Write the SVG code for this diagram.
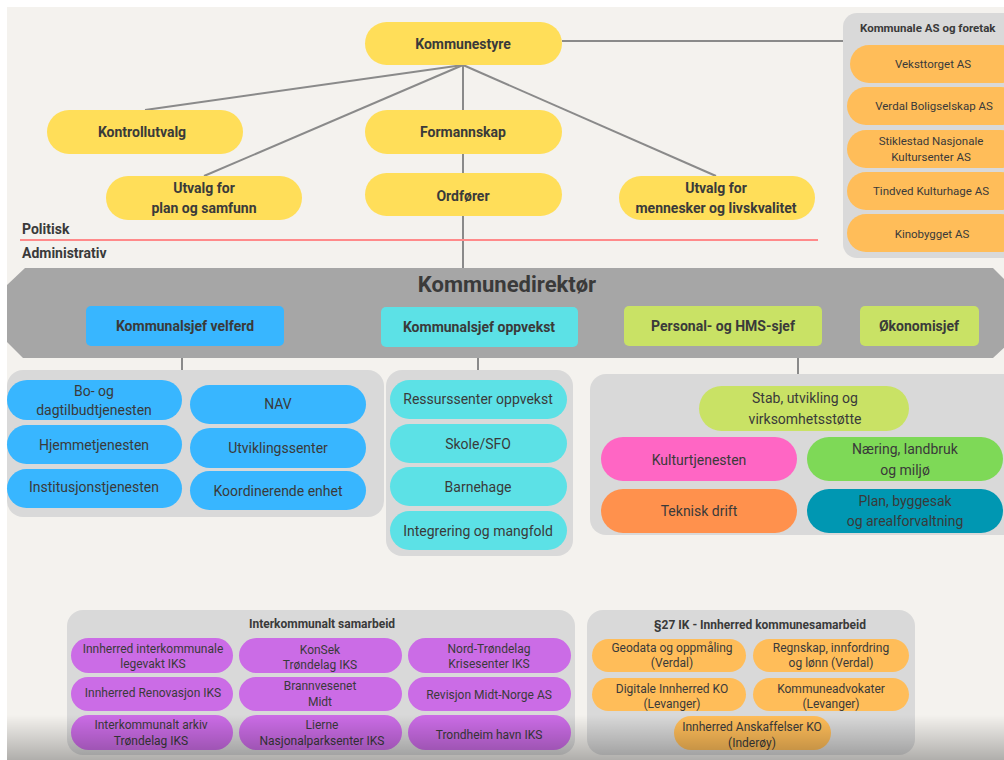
<svg xmlns="http://www.w3.org/2000/svg" width="1004" height="760" viewBox="0 0 1004 760">
<defs>
<style>
text{font-family:Roboto,"Liberation Sans",sans-serif;fill:#3a3a3a;text-anchor:middle;dominant-baseline:central}
.b{font-weight:bold}
.y{fill:#ffde59}
.or{fill:#ffbd59}
.bl{fill:#38b6ff}
.cy{fill:#5ce1e6}
.li{fill:#c9e265}
.pu{fill:#cb6ce6}
.grp{fill:#d9d9d9}
.c{stroke:#8a8a8a;stroke-width:2;fill:none}
.t14{font-size:14px}
.t15{font-size:15px}
.t12{font-size:12px}
.t115{font-size:11.5px}
</style>
<linearGradient id="shade" x1="0" y1="0" x2="0" y2="1">
<stop offset="0" stop-color="#000" stop-opacity="0"/>
<stop offset="1" stop-color="#000" stop-opacity="0.28"/>
</linearGradient>
</defs>
<rect x="0" y="0" width="1004" height="760" fill="#ffffff"/>
<rect x="7" y="7" width="997" height="753" fill="#f4f2ee"/>

<g id="connectors">
<line class="c" x1="562" y1="41" x2="845" y2="41"/>
<line class="c" x1="463" y1="65" x2="145" y2="110"/>
<line class="c" x1="463" y1="65" x2="204" y2="176"/>
<line class="c" x1="463" y1="65" x2="716" y2="176"/>
<line class="c" x1="463" y1="65" x2="463" y2="268"/>
<line class="c" x1="182" y1="346" x2="182" y2="372"/>
<line class="c" x1="478" y1="347" x2="478" y2="372"/>
<line class="c" x1="798" y1="346" x2="798" y2="376"/>
</g>

<g id="divider">
<text class="b t14" x="22" y="229" style="text-anchor:start">Politisk</text>
<line x1="20" y1="240" x2="818" y2="240" stroke="#ff8a8a" stroke-width="2"/>
<text class="b t14" x="22" y="253" style="text-anchor:start">Administrativ</text>
</g>

<g id="kommunestyre"><rect class="y" x="365" y="22" width="197" height="43" rx="21.5"/><text class="b t14" x="463" y="44">Kommunestyre</text></g>
<g id="kontrollutvalg"><rect class="y" x="47" y="110" width="196" height="44" rx="22"/><text class="b t14" x="142" y="132">Kontrollutvalg</text></g>
<g id="formannskap"><rect class="y" x="365" y="110" width="197" height="44" rx="22"/><text class="b t14" x="463" y="132">Formannskap</text></g>
<g id="utvalg-plan"><rect class="y" x="106" y="176" width="196" height="44" rx="22"/><text class="b t14" x="204" y="188">Utvalg for</text><text class="b t14" x="204" y="208">plan og samfunn</text></g>
<g id="ordforer"><rect class="y" x="365" y="173" width="197" height="43" rx="21.5"/><text class="b t14" x="463" y="196">Ordfører</text></g>
<g id="utvalg-mennesker"><rect class="y" x="619" y="176" width="196" height="44" rx="22"/><text class="b t14" x="716" y="188">Utvalg for</text><text class="b t14" x="716" y="208">mennesker og livskvalitet</text></g>

<g id="kommunale-as">
<rect class="grp" x="843" y="13" width="175" height="245" rx="14"/>
<text class="b" x="860" y="28" style="text-anchor:start;font-size:11.5px">Kommunale AS og foretak</text>
<rect class="or" x="850" y="45" width="170" height="38" rx="19"/><text class="t115" x="933" y="64">Veksttorget AS</text>
<rect class="or" x="847" y="87" width="173" height="38" rx="19"/><text class="t115" x="934" y="106">Verdal Boligselskap AS</text>
<rect class="or" x="847" y="130" width="173" height="38" rx="19"/><text class="t115" x="931" y="141">Stiklestad Nasjonale</text><text class="t115" x="931" y="157">Kultursenter AS</text>
<rect class="or" x="847" y="172" width="173" height="38" rx="19"/><text class="t115" x="931" y="191">Tindved Kulturhage AS</text>
<rect class="or" x="847" y="214" width="173" height="38" rx="19"/><text class="t115" x="932" y="234">Kinobygget AS</text>
</g>

<g id="kommunedirektor">
<polygon points="25,268 993,268 1010,285 1010,342 993,358 23,358 7,342 7,285" fill="#a6a6a6"/>
<text class="b" x="507" y="284" style="font-size:22px">Kommunedirektør</text>
</g>
<g id="sjef-velferd"><rect class="bl" x="86" y="306" width="198" height="40" rx="5"/><text class="b t14" x="185" y="326">Kommunalsjef velferd</text></g>
<g id="sjef-oppvekst"><rect class="cy" x="381" y="307" width="197" height="40" rx="5"/><text class="b t14" x="479" y="327">Kommunalsjef oppvekst</text></g>
<g id="personal-hms"><rect class="li" x="624" y="306" width="198" height="40" rx="5"/><text class="b t14" x="723" y="326">Personal- og HMS-sjef</text></g>
<g id="okonomisjef"><rect class="li" x="860" y="306" width="119" height="40" rx="5"/><text class="b t14" x="919" y="326">Økonomisjef</text></g>

<g id="velferd-group">
<rect class="grp" x="7" y="370" width="377" height="147" rx="16"/>
<rect class="bl" x="7" y="380" width="175" height="40" rx="20"/><text class="t14" x="94" y="391">Bo- og</text><text class="t14" x="94" y="410">dagtilbudtjenesten</text>
<rect class="bl" x="190" y="385" width="176" height="39" rx="19.5"/><text class="t14" x="278" y="404">NAV</text>
<rect class="bl" x="7" y="425" width="175" height="39" rx="19.5"/><text class="t14" x="94" y="445">Hjemmetjenesten</text>
<rect class="bl" x="190" y="428" width="176" height="40" rx="20"/><text class="t14" x="278" y="448">Utviklingssenter</text>
<rect class="bl" x="7" y="469" width="175" height="39" rx="19.5"/><text class="t14" x="94" y="487">Institusjonstjenesten</text>
<rect class="bl" x="190" y="471" width="176" height="39" rx="19.5"/><text class="t14" x="278" y="491">Koordinerende enhet</text>
</g>

<g id="oppvekst-group">
<rect class="grp" x="386" y="370" width="187" height="186" rx="16"/>
<rect class="cy" x="390" y="380" width="177" height="39" rx="19.5"/><text class="t14" x="478" y="399">Ressurssenter oppvekst</text>
<rect class="cy" x="390" y="424" width="177" height="39" rx="19.5"/><text class="t14" x="478" y="444">Skole/SFO</text>
<rect class="cy" x="390" y="467" width="177" height="39" rx="19.5"/><text class="t14" x="478" y="487">Barnehage</text>
<rect class="cy" x="390" y="511" width="177" height="39" rx="19.5"/><text class="t14" x="478" y="531">Integrering og mangfold</text>
</g>

<g id="stab-group">
<rect class="grp" x="590" y="374" width="430" height="161" rx="16"/>
<rect class="li" x="699" y="386" width="210" height="45" rx="22.5"/><text class="t14" x="805" y="398">Stab, utvikling og</text><text class="t14" x="805" y="419">virksomhetsstøtte</text>
<rect x="601" y="437" width="196" height="44" rx="22" fill="#ff66c4"/><text class="t14" x="699" y="460">Kulturtjenesten</text>
<rect x="807" y="437" width="196" height="44" rx="22" fill="#7ed957"/><text class="t14" x="905" y="449">Næring, landbruk</text><text class="t14" x="905" y="470">og miljø</text>
<rect x="601" y="489" width="196" height="44" rx="22" fill="#ff914d"/><text class="t14" x="699" y="511">Teknisk drift</text>
<rect x="807" y="489" width="196" height="44" rx="22" fill="#0097b2"/><text class="t14" x="905" y="501">Plan, byggesak</text><text class="t14" x="905" y="521">og arealforvaltning</text>
</g>

<g id="interkommunalt">
<rect class="grp" x="67" y="610" width="508" height="145" rx="16"/>
<text class="b t12" x="322" y="624">Interkommunalt samarbeid</text>
<rect class="pu" x="71" y="638" width="162" height="35" rx="17.5"/><text class="t12" x="153" y="649">Innherred interkommunale</text><text class="t12" x="153" y="664">legevakt IKS</text>
<rect class="pu" x="239" y="638" width="163" height="35" rx="17.5"/><text class="t12" x="320" y="650">KonSek</text><text class="t12" x="320" y="665">Trøndelag IKS</text>
<rect class="pu" x="408" y="638" width="163" height="35" rx="17.5"/><text class="t12" x="489" y="649">Nord-Trøndelag</text><text class="t12" x="489" y="664">Krisesenter IKS</text>
<rect class="pu" x="71" y="677" width="162" height="34" rx="17"/><text class="t12" x="153" y="693">Innherred Renovasjon IKS</text>
<rect class="pu" x="239" y="677" width="163" height="34" rx="17"/><text class="t12" x="320" y="686">Brannvesenet</text><text class="t12" x="320" y="702">Midt</text>
<rect class="pu" x="408" y="677" width="163" height="34" rx="17"/><text class="t12" x="489" y="695">Revisjon Midt-Norge AS</text>
<rect class="pu" x="71" y="715" width="162" height="35" rx="17.5"/><text class="t12" x="151" y="725">Interkommunalt arkiv</text><text class="t12" x="151" y="741">Trøndelag IKS</text>
<rect class="pu" x="239" y="715" width="163" height="35" rx="17.5"/><text class="t12" x="322" y="725">Lierne</text><text class="t12" x="322" y="741">Nasjonalparksenter IKS</text>
<rect class="pu" x="408" y="715" width="163" height="35" rx="17.5"/><text class="t12" x="489" y="735">Trondheim havn IKS</text>
</g>

<g id="ik27">
<rect class="grp" x="587" y="610" width="328" height="145" rx="16"/>
<text class="b t12" x="760" y="625">§27 IK - Innherred kommunesamarbeid</text>
<rect class="or" x="592" y="639" width="154" height="33" rx="16.5"/><text class="t12" x="672" y="648">Geodata og oppmåling</text><text class="t12" x="672" y="663">(Verdal)</text>
<rect class="or" x="753" y="639" width="156" height="33" rx="16.5"/><text class="t12" x="831" y="648">Regnskap, innfordring</text><text class="t12" x="831" y="663">og lønn (Verdal)</text>
<rect class="or" x="592" y="678" width="154" height="33" rx="16.5"/><text class="t12" x="672" y="689">Digitale Innherred KO</text><text class="t12" x="672" y="704">(Levanger)</text>
<rect class="or" x="753" y="678" width="156" height="33" rx="16.5"/><text class="t12" x="831" y="689">Kommuneadvokater</text><text class="t12" x="831" y="704">(Levanger)</text>
<rect class="or" x="674" y="716" width="157" height="34" rx="17"/><text class="t12" x="752" y="727">Innherred Anskaffelser  KO</text><text class="t12" x="752" y="743">(Inderøy)</text>
</g>

<rect x="7" y="715" width="997" height="45" fill="url(#shade)"/>
</svg>
